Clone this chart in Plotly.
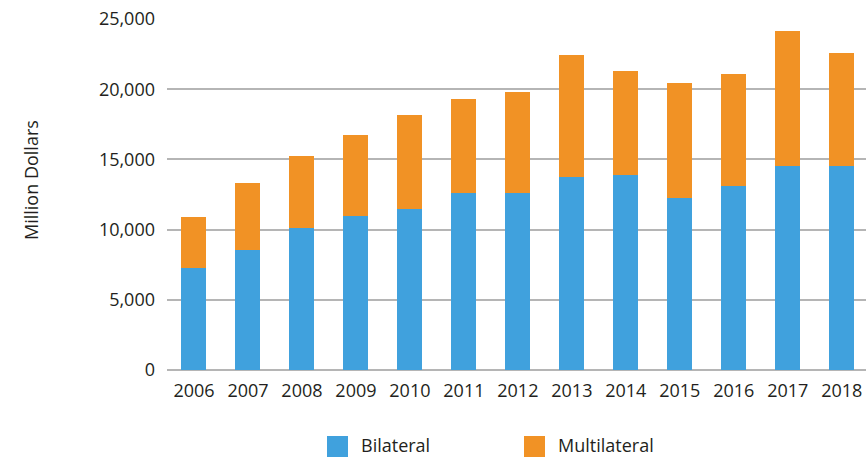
import plotly.graph_objects as go

years = ["2006", "2007", "2008", "2009", "2010", "2011", "2012",
         "2013", "2014", "2015", "2016", "2017", "2018"]
bilateral = [7300, 8580, 10120, 10970, 11470, 12610, 12610,
             13750, 13890, 12250, 13130, 14550, 14550]
multilateral = [3600, 4740, 5120, 5760, 6690, 6690, 7180,
                8680, 7400, 8180, 7940, 9580, 8020]
y_ticks = [0, 5000, 10000, 15000, 20000, 25000]

BLUE = "#40A1DD"
ORANGE = "#F19225"
TEXT = "#231F20"
GRID = "#B5B5B5"
FONT = "Open Sans"

W, H = 866, 457
L, R, T, B = 167, 0, 19, 87
pw = W - L - R
ph = H - T - B

fig = go.Figure()
fig.add_trace(go.Bar(x=years, y=bilateral, name="Bilateral",
                     marker=dict(color=BLUE, line=dict(width=0))))
fig.add_trace(go.Bar(x=years, y=multilateral, name="Multilateral",
                     marker=dict(color=ORANGE, line=dict(width=0))))

def px_x(p):
    return (p - L) / pw

def px_y(p):
    return (H - B - p) / ph

shapes = []
annotations = []
legend_items = [("Bilateral", BLUE, 327), ("Multilateral", ORANGE, 524)]
for name, color, x0 in legend_items:
    shapes.append(dict(type="rect", xref="paper", yref="paper",
                       x0=px_x(x0), x1=px_x(x0 + 21),
                       y0=px_y(458), y1=px_y(436),
                       fillcolor=color, line=dict(width=0)))
    annotations.append(dict(xref="paper", yref="paper", x=px_x(x0 + 32),
                            y=px_y(445), text=name, showarrow=False,
                            xanchor="left", yanchor="middle",
                            font=dict(family=FONT, size=18, color=TEXT)))

annotations.append(dict(xref="paper", yref="paper", x=px_x(31), y=px_y(180),
                        text="Million Dollars", textangle=-90, showarrow=False,
                        xanchor="center", yanchor="middle",
                        font=dict(family=FONT, size=18, color=TEXT)))

fig.update_layout(
    width=W, height=H,
    margin=dict(l=L, r=R, t=T, b=B, autoexpand=False),
    barmode="stack",
    bargap=0.537,
    showlegend=False,
    plot_bgcolor="white",
    paper_bgcolor="white",
    font=dict(family=FONT, size=18, color=TEXT),
    shapes=shapes,
    annotations=annotations,
    xaxis=dict(range=[-0.5, 12.45], showgrid=False, showline=False,
               zeroline=False, ticks="", ticklabelstandoff=8,
               tickfont=dict(family=FONT, size=18, color=TEXT),
               fixedrange=True),
    yaxis=dict(range=[0, 25000], tickvals=y_ticks, tickformat=",",
               showgrid=True, gridcolor=GRID, gridwidth=1.5,
               zeroline=True, zerolinecolor=GRID, zerolinewidth=1.5,
               showline=False, ticks="", ticklabelstandoff=11,
               tickfont=dict(family=FONT, size=18, color=TEXT),
               fixedrange=True),
)

fig.write_html("out.html", config={"displayModeBar": False},
               post_script="document.body.style.margin='0';document.body.style.overflow='hidden';")
